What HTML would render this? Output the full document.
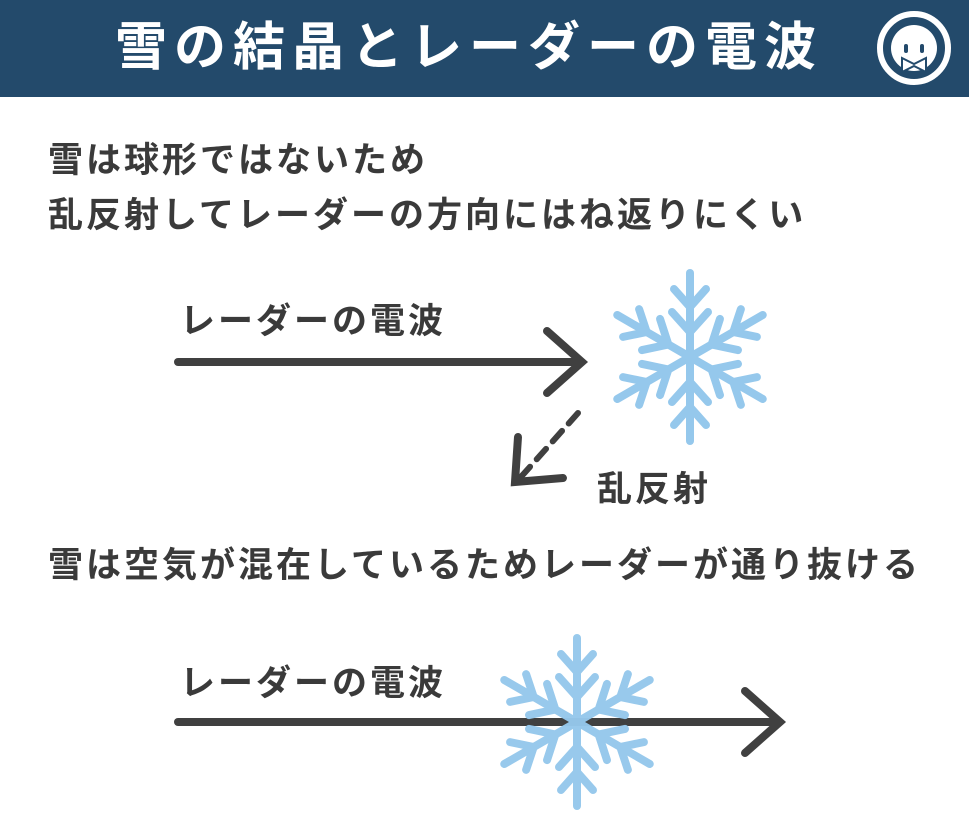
<!DOCTYPE html>
<html><head><meta charset="utf-8"><style>
body{margin:0;width:969px;height:831px;background:#fff;overflow:hidden;position:relative;font-family:"Liberation Sans","Noto Sans CJK JP",sans-serif;}
.hdr{position:absolute;left:0;top:0;width:969px;height:97px;background:#234a6b;}
.t{position:absolute;white-space:nowrap;color:#3a3a3a;font-weight:bold;font-size:35px;letter-spacing:3px;line-height:1;}
</style></head><body>
<div class="hdr"></div>
<div class="t" style="left:115px;top:22px;font-size:52px;color:#fff;letter-spacing:7px">雪の結晶とレーダーの電波</div>
<svg style="position:absolute;left:0;top:0" width="969" height="831">
<defs>
<g id="sf" stroke="#95c8ec" stroke-width="8" stroke-linecap="round" fill="none">
<g id="arm"><line x1="0" y1="0" x2="0" y2="-84"/><polyline points="-18,-45 0,-25 18,-45"/><polyline points="-16,-68 0,-50 16,-68"/></g>
<use href="#arm" transform="rotate(60)"/><use href="#arm" transform="rotate(120)"/><use href="#arm" transform="rotate(180)"/><use href="#arm" transform="rotate(240)"/><use href="#arm" transform="rotate(300)"/>
</g>
</defs>
<g transform="translate(914,48)">
<circle r="34" fill="none" stroke="#fff" stroke-width="6"/>
<circle r="23" fill="#fff"/>
<rect x="-10" y="-4" width="4" height="9" rx="2" fill="#234a6b"/><rect x="6" y="-4" width="4" height="9" rx="2" fill="#234a6b"/>
<path d="M-12 10 L0 16 L12 10 L12 24 L0 18 L-12 24Z" fill="#fff" stroke="#234a6b" stroke-width="2"/>
</g>
<use href="#sf" transform="translate(690,357)"/>
<g stroke="#404040" stroke-width="8" stroke-linecap="round" fill="none">
<line x1="178" y1="362" x2="580" y2="362"/><polyline points="547,331 582,362 547,393"/>
<line x1="578" y1="413" x2="520" y2="478" stroke-dasharray="14,10" stroke-width="6"/>
<polyline points="518,437 515,482 563,478"/>
</g>
<g stroke="#404040" stroke-width="8" stroke-linecap="round" fill="none">
<line x1="178" y1="722" x2="778" y2="722"/><polyline points="745,691 780,722 745,753"/>
</g>
<use href="#sf" transform="translate(577,722)" opacity="0.97"/>
</svg>
<div class="t" style="left:48px;top:143px">雪は球形ではないため</div>
<div class="t" style="left:48px;top:198px">乱反射してレーダーの方向にはね返りにくい</div>
<div class="t" style="left:180px;top:304px">レーダーの電波</div>
<div class="t" style="left:597px;top:472px">乱反射</div>
<div class="t" style="left:48px;top:548px">雪は空気が混在しているためレーダーが通り抜ける</div>
<div class="t" style="left:180px;top:666px">レーダーの電波</div>
</body></html>
